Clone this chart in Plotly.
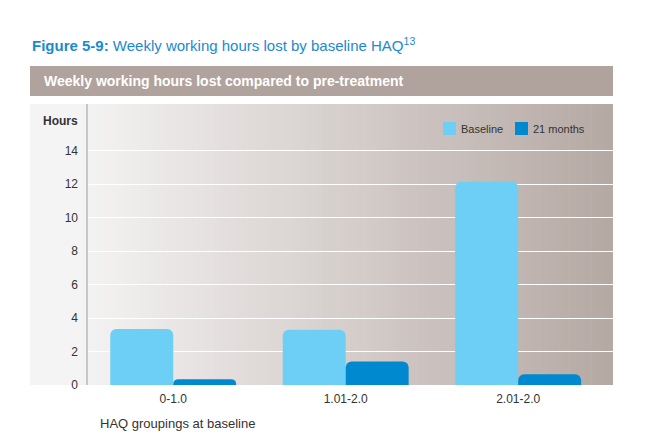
import plotly.graph_objects as go

categories = ["0-1.0", "1.01-2.0", "2.01-2.0"]
series_names = ["Baseline", "21 months"]
baseline = [3.35, 3.3, 12.15]
months21 = [0.35, 1.4, 0.65]
ytick_vals = [0, 2, 4, 6, 8, 10, 12, 14]
colors = ["#6dcff6", "#0089cf"]

FONT = "Liberation Sans Narrow, Arial Narrow, Liberation Sans, Arial, sans-serif"

fig = go.Figure()
for name, vals, col in zip(series_names, [baseline, months21], colors):
    fig.add_trace(go.Bar(x=categories, y=vals, name=name,
                         marker=dict(color=col, cornerradius=6, line=dict(width=0))))

# gradient panel background via strips
L, R, T, B = 87, 613, 104, 385
W, H = R - L, B - T
def px(x):
    return (x - L) / W
def py(y):
    return (B - y) / H

c0 = (0xf5, 0xf4, 0xf4)
c1 = (0xb5, 0xa8, 0xa3)
n = 80
x_start, x_end = 30, 613
shapes = []
for i in range(n):
    xa = x_start + (x_end - x_start) * i / n
    xb = x_start + (x_end - x_start) * (i + 1) / n + 0.6
    t = (i + 0.5) / n
    t = max(0.0, (t - 0.08) / 0.92)
    col = tuple(round(c0[k] + (c1[k] - c0[k]) * t) for k in range(3))
    shapes.append(dict(type="rect", xref="paper", yref="paper",
                       x0=px(xa), x1=px(min(xb, x_end)), y0=0, y1=py(T),
                       fillcolor="rgb(%d,%d,%d)" % col, line=dict(width=0), layer="below"))
# header bar
shapes.append(dict(type="rect", xref="paper", yref="paper",
                   x0=px(30), x1=px(613), y0=py(96), y1=py(66),
                   fillcolor="#b0a39d", line=dict(width=0)))
# y axis line
shapes.append(dict(type="line", xref="paper", yref="paper",
                   x0=0, x1=0, y0=0, y1=1, line=dict(color="#a39894", width=1)))

annotations = [
    dict(xref="paper", yref="paper", x=px(30), y=py(44), xanchor="left", yanchor="middle",
         text="<b>Figure 5-9:</b> Weekly working hours lost by baseline HAQ<sup>13</sup>",
         showarrow=False, font=dict(size=15, color="#1a8ad0", family=FONT)),
    dict(xref="paper", yref="paper", x=px(42), y=py(81), xanchor="left", yanchor="middle",
         text="<b>Weekly working hours lost compared to pre-treatment</b>",
         showarrow=False, font=dict(size=14, color="white", family=FONT)),
    dict(xref="paper", yref="paper", x=px(80), y=py(121), xanchor="right", yanchor="middle",
         text="<b>Hours</b>", showarrow=False, font=dict(size=12, color="#333333", family=FONT)),
    dict(xref="paper", yref="paper", x=px(98), y=py(423), xanchor="left", yanchor="middle",
         text="HAQ groupings at baseline", showarrow=False,
         font=dict(size=13, color="#333333", family=FONT)),
]

# custom legend (squares + labels)
leg_x = [443, 515]
for name, col, lx in zip(series_names, colors, leg_x):
    shapes.append(dict(type="rect", xref="paper", yref="paper",
                       x0=px(lx), x1=px(lx + 13), y0=py(135), y1=py(122),
                       fillcolor=col, line=dict(width=0)))
    annotations.append(dict(xref="paper", yref="paper", x=px(lx + 16), y=py(128.5),
                            xanchor="left", yanchor="middle", text=name, showarrow=False,
                            font=dict(size=11, color="#333333", family=FONT)))

fig.update_layout(
    width=645, height=441,
    margin=dict(l=L, r=645 - R, t=T, b=441 - B),
    paper_bgcolor="white", plot_bgcolor="rgba(0,0,0,0)",
    barmode="group", bargap=0.27, bargroupgap=0,
    shapes=shapes,
    font=dict(family=FONT, color="#333333", size=11),
    showlegend=False,
    xaxis=dict(range=[-0.5, 2.55], showgrid=False, showline=False, ticks="",
               tickfont=dict(size=12, color="#333333"), ticklabelstandoff=5),
    yaxis=dict(range=[0, 16.8], tickvals=ytick_vals, showgrid=True, gridcolor="white",
               gridwidth=1, zeroline=False, showline=False, ticks="",
               tickfont=dict(size=12, color="#333333"), ticklabelstandoff=8),
    annotations=annotations,
)

fig.write_html("out.html")
